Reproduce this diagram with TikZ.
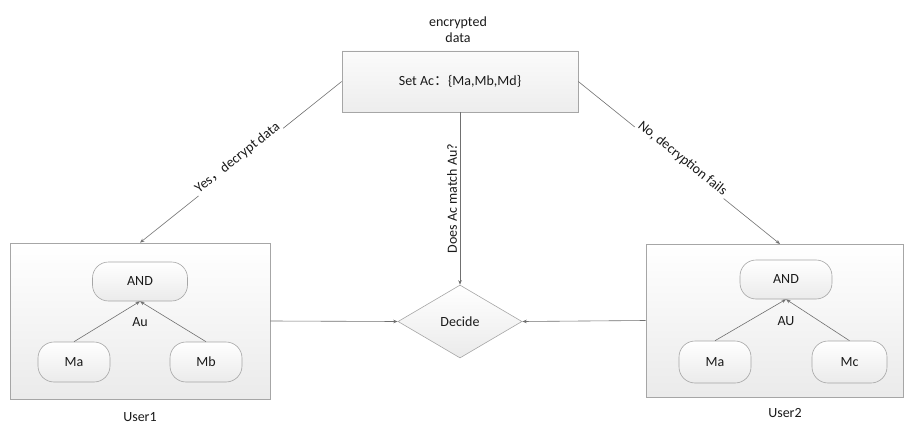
\documentclass[tikz,border=0pt]{standalone}
\usepackage{fontspec}
\setmainfont{Carlito}
\newfontfamily\cjk{Noto Sans CJK SC}
\usetikzlibrary{shapes.geometric,arrows.meta,shadows}
\definecolor{edgegray}{HTML}{A6A6A6}
\definecolor{linegray}{HTML}{707070}
\definecolor{txt}{HTML}{1A1A1A}
\begin{document}
\begin{tikzpicture}[x=1pt,y=-1pt,
  font=\fontsize{14}{16}\selectfont, text=txt,
  every node/.style={inner sep=2pt},
  shadebox/.style={draw=edgegray, line width=0.6pt, top color=white, bottom color=gray!16},
  userbox/.style={shadebox, rectangle},
  topbox/.style={shadebox, rectangle, top color=gray!3, bottom color=gray!14,
     drop shadow={opacity=0.25, shadow xshift=1.2pt, shadow yshift=-1.2pt}},
  pill/.style={shadebox, rectangle, rounded corners=16pt, minimum height=40pt},
  decbox/.style={shadebox, diamond, aspect=1.7, minimum width=124pt, minimum height=73pt, inner sep=0pt},
  conn/.style={draw=linegray, line width=0.6pt, -{Stealth[length=4.5pt,width=3.5pt]}},
  lbl/.style={fill=white, inner sep=1pt}
]
\useasboundingbox (0,0) rectangle (905,425);

% nodes
\node[topbox, minimum width=236pt, minimum height=61pt] (top) at (460,81.5) {Set Ac{\cjk ：}\{Ma,Mb,Md\}};
\node (enc) at (458,29.5) [align=center] {encrypted\\data};

\node[userbox, minimum width=260pt, minimum height=156pt] (user1) at (140,321) {};
\node[userbox, minimum width=257pt, minimum height=153pt] (user2) at (774.5,320.5) {};

\node[pill, minimum width=95pt, minimum height=39pt] (and1) at (140,281.5) {AND};
\node[pill, minimum width=72pt] (ma1) at (74,362) {Ma};
\node[pill, minimum width=72pt] (mb1) at (206,362) {Mb};
\node (au1) at (140,322) {Au};

\node[pill, minimum width=92pt, minimum height=39pt] (and2) at (786,279.5) {AND};
\node[pill, minimum width=72pt, minimum height=42pt] (ma2) at (715,362) {Ma};
\node[pill, minimum width=75pt, minimum height=42pt] (mc2) at (849.5,362) {Mc};
\node (au2) at (786,321) {AU};

\node[decbox] (dec) at (460,321.5) {Decide};

\node (u1lbl) at (140,417) {User1};
\node (u2lbl) at (785,413) {User2};

\coordinate (u2in) at (780,244);

% connectors
\draw[conn] (top.west) -- node[sloped, above=-3pt, lbl, inner sep=2pt] {Yes{\cjk ，}decrypt data} (user1.north);
\draw[conn] (top.east) -- node[sloped, above=-3pt, lbl, inner sep=2pt] {No, decryption fails} (u2in);
\draw[conn] (top.south) -- node[midway, xshift=-8pt, rotate=90, lbl] {Does Ac match Au?} (dec.north);
\draw[conn] (user1.east) -- (dec.west);
\draw[conn] (user2.west) -- (dec.east);

\draw[conn] (ma1.north) -- (and1.south);
\draw[conn] (mb1.north) -- (and1.south);
\draw[conn] (ma2.north) -- (and2.south);
\draw[conn] (mc2.north) -- (and2.south);
\end{tikzpicture}
\end{document}
